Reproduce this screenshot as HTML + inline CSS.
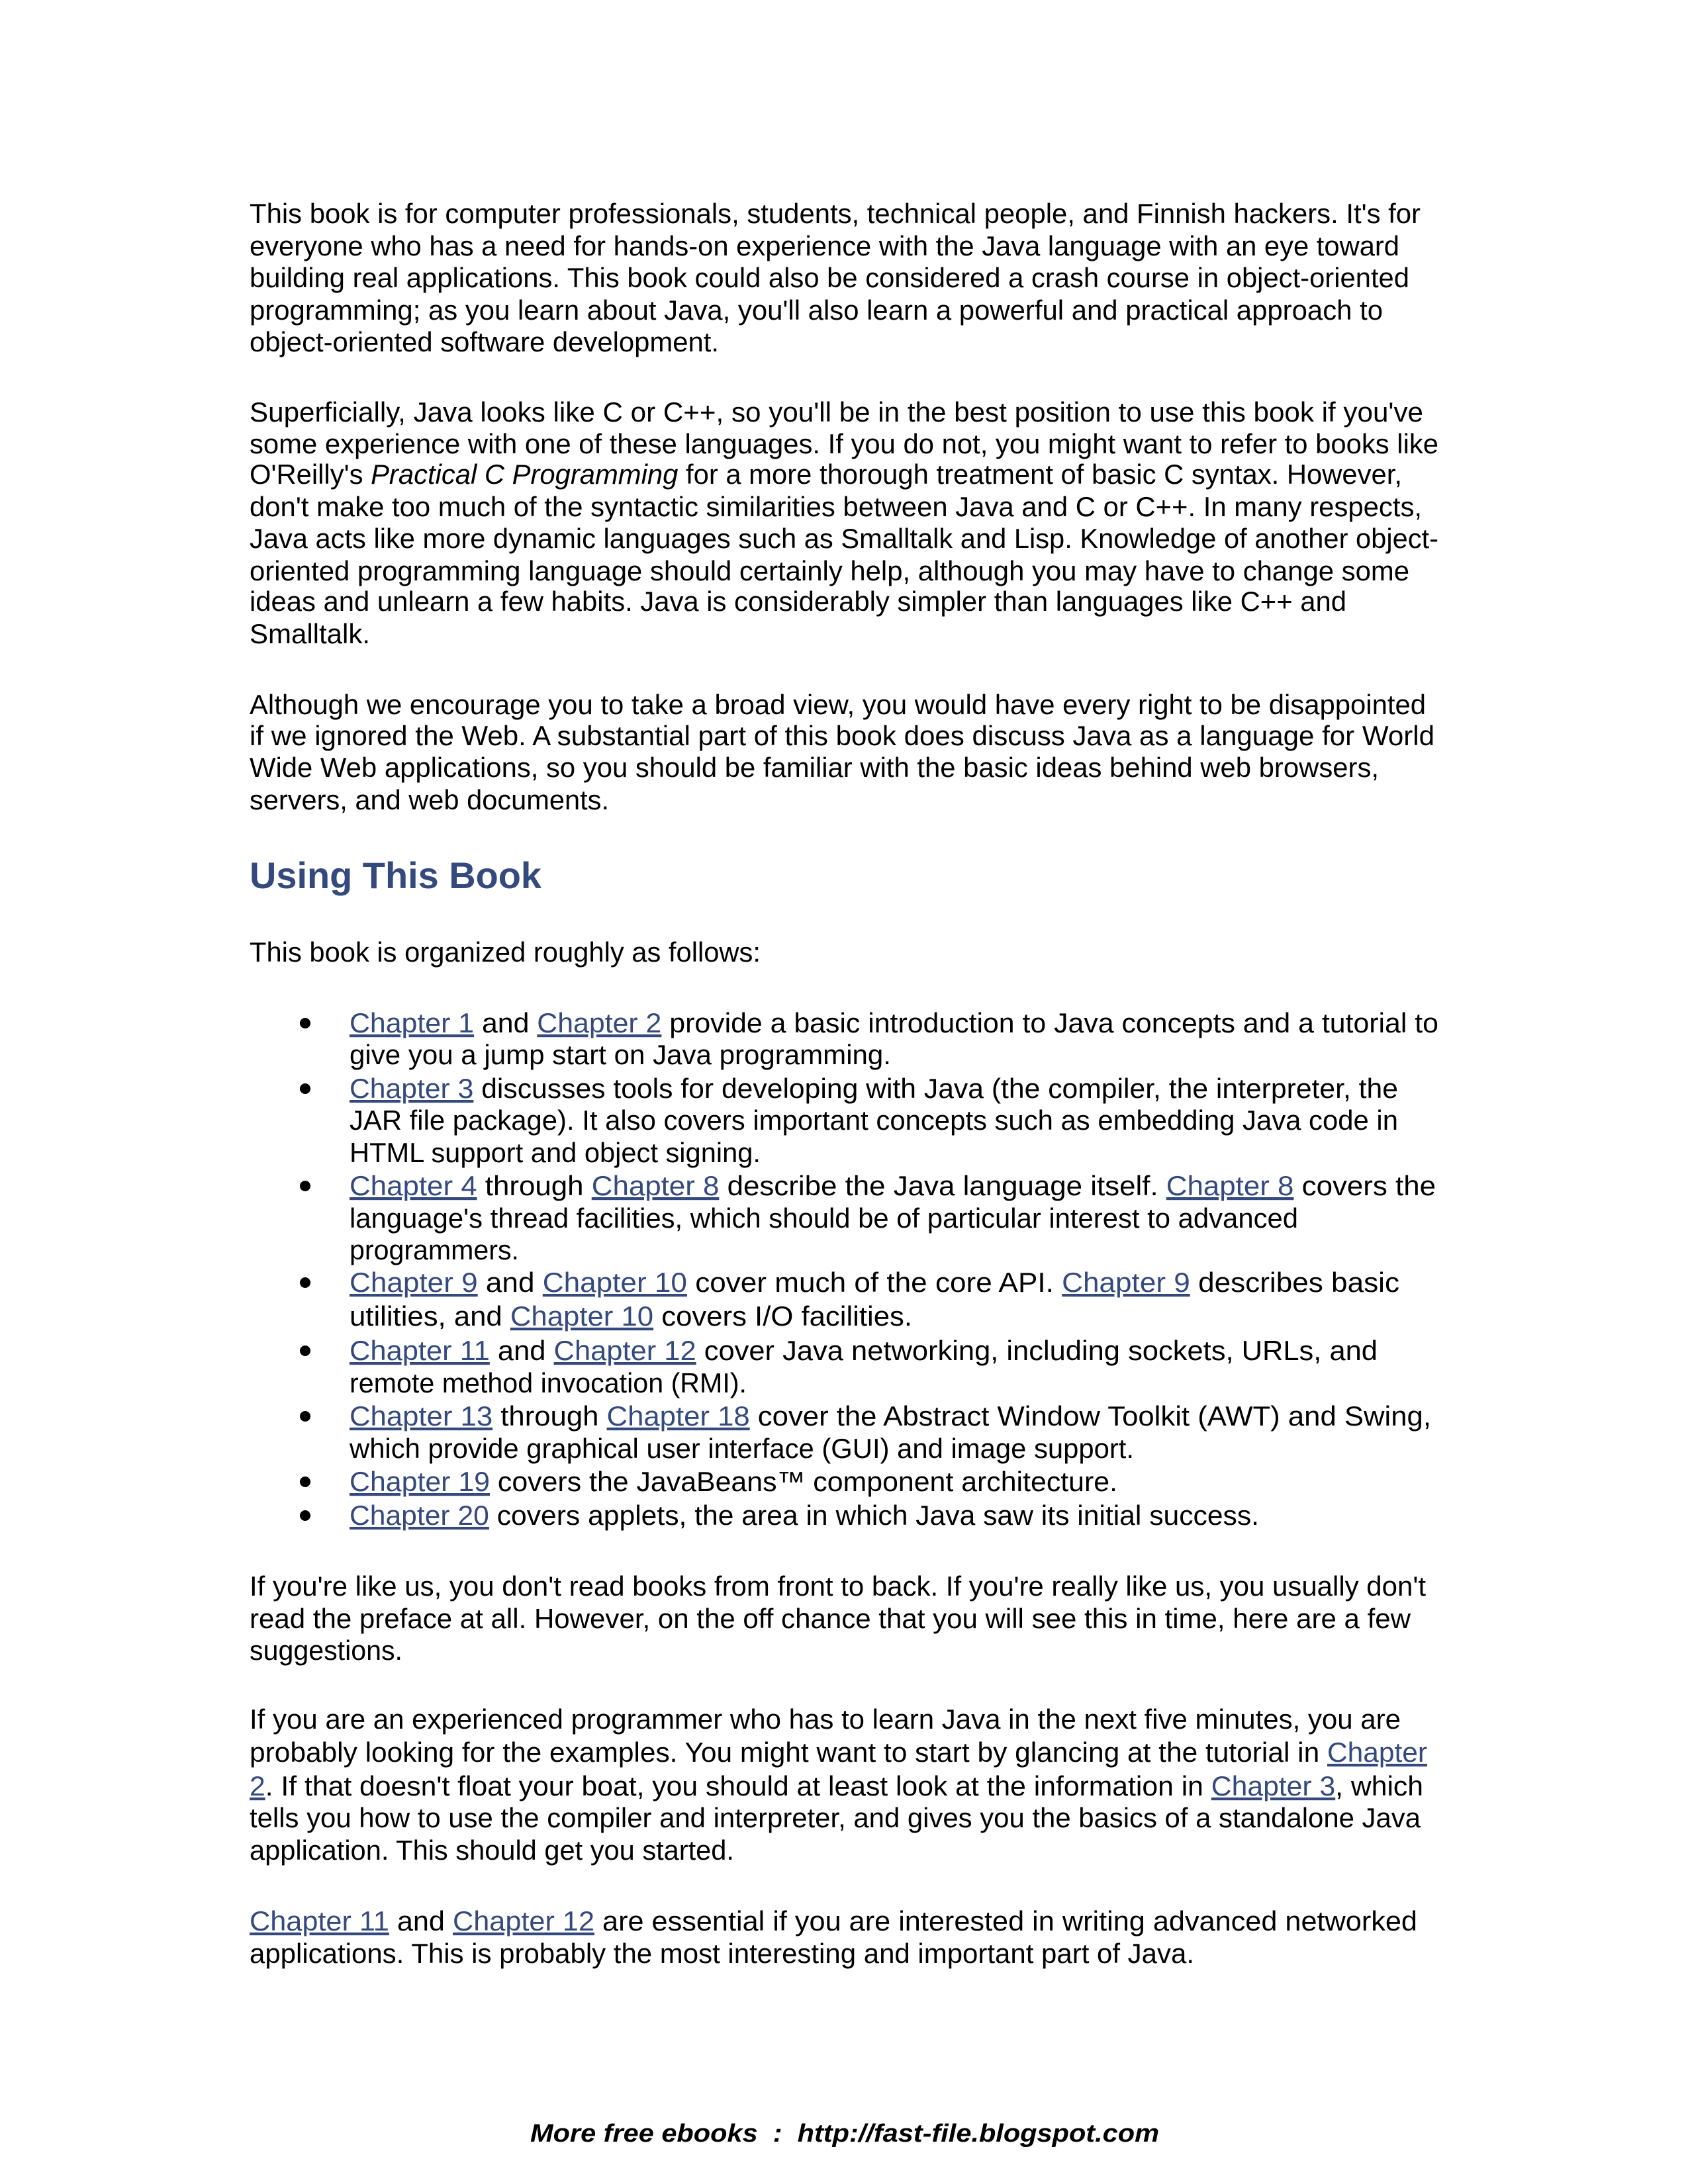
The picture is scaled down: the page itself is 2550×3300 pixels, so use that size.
<!DOCTYPE html>
<html><head><meta charset="utf-8"><style>
html,body{margin:0;padding:0;background:#fff;}
svg{display:block;}
text{font-family:"Liberation Sans",Arial,sans-serif;font-size:42px;fill:#000;}
.l{fill:#34497d;text-decoration:underline;}
.h{font-size:56px;font-weight:bold;fill:#34497d;}
.f{font-size:38px;font-weight:bold;font-style:italic;}
</style></head><body>
<svg width="2550" height="3300" viewBox="0 0 2550 3300" xmlns="http://www.w3.org/2000/svg">
<g lengthAdjust="spacingAndGlyphs">
<text x="377" y="337" textLength="1769" lengthAdjust="spacingAndGlyphs">This book is for computer professionals, students, technical people, and Finnish hackers. It's for</text>
<text x="377" y="386" textLength="1737" lengthAdjust="spacingAndGlyphs">everyone who has a need for hands-on experience with the Java language with an eye toward</text>
<text x="377" y="434" textLength="1752" lengthAdjust="spacingAndGlyphs">building real applications. This book could also be considered a crash course in object-oriented</text>
<text x="377" y="483" textLength="1712" lengthAdjust="spacingAndGlyphs">programming; as you learn about Java, you'll also learn a powerful and practical approach to</text>
<text x="377" y="531" textLength="709" lengthAdjust="spacingAndGlyphs">object-oriented software development.</text>

<text x="377" y="637" textLength="1773" lengthAdjust="spacingAndGlyphs">Superficially, Java looks like C or C++, so you'll be in the best position to use this book if you've</text>
<text x="377" y="685" textLength="1796" lengthAdjust="spacingAndGlyphs">some experience with one of these languages. If you do not, you might want to refer to books like</text>
<text x="377" y="731" textLength="1741" lengthAdjust="spacingAndGlyphs">O'Reilly's <tspan font-style="italic">Practical C Programming</tspan> for a more thorough treatment of basic C syntax. However,</text>
<text x="377" y="780" textLength="1771" lengthAdjust="spacingAndGlyphs">don't make too much of the syntactic similarities between Java and C or C++. In many respects,</text>
<text x="377" y="828" textLength="1796" lengthAdjust="spacingAndGlyphs">Java acts like more dynamic languages such as Smalltalk and Lisp. Knowledge of another object-</text>
<text x="377" y="877" textLength="1752" lengthAdjust="spacingAndGlyphs">oriented programming language should certainly help, although you may have to change some</text>
<text x="377" y="923" textLength="1657" lengthAdjust="spacingAndGlyphs">ideas and unlearn a few habits. Java is considerably simpler than languages like C++ and</text>
<text x="377" y="972" textLength="182" lengthAdjust="spacingAndGlyphs">Smalltalk.</text>

<text x="377" y="1079" textLength="1777" lengthAdjust="spacingAndGlyphs">Although we encourage you to take a broad view, you would have every right to be disappointed</text>
<text x="377" y="1126" textLength="1790" lengthAdjust="spacingAndGlyphs">if we ignored the Web. A substantial part of this book does discuss Java as a language for World</text>
<text x="377" y="1174" textLength="1706" lengthAdjust="spacingAndGlyphs">Wide Web applications, so you should be familiar with the basic ideas behind web browsers,</text>
<text x="377" y="1223" textLength="543" lengthAdjust="spacingAndGlyphs">servers, and web documents.</text>

<text class="h" x="377" y="1342" textLength="441" lengthAdjust="spacingAndGlyphs">Using This Book</text>

<text x="377" y="1453" textLength="772" lengthAdjust="spacingAndGlyphs">This book is organized roughly as follows:</text>

<g fill="#000">
<circle cx="461" cy="1546" r="8"/>
<circle cx="461" cy="1645" r="8"/>
<circle cx="461" cy="1792" r="8"/>
<circle cx="461" cy="1938" r="8"/>
<circle cx="461" cy="2041" r="8"/>
<circle cx="461" cy="2140" r="8"/>
<circle cx="461" cy="2239" r="8"/>
<circle cx="461" cy="2290" r="8"/>
</g>
<text x="528" y="1560" textLength="1645" lengthAdjust="spacingAndGlyphs"><tspan class="l">Chapter 1</tspan> and <tspan class="l">Chapter 2</tspan> provide a basic introduction to Java concepts and a tutorial to</text>
<text x="528" y="1608" textLength="818" lengthAdjust="spacingAndGlyphs">give you a jump start on Java programming.</text>
<text x="528" y="1659" textLength="1584" lengthAdjust="spacingAndGlyphs"><tspan class="l">Chapter 3</tspan> discusses tools for developing with Java (the compiler, the interpreter, the</text>
<text x="528" y="1707" textLength="1584" lengthAdjust="spacingAndGlyphs">JAR file package). It also covers important concepts such as embedding Java code in</text>
<text x="528" y="1756" textLength="621" lengthAdjust="spacingAndGlyphs">HTML support and object signing.</text>
<text x="528" y="1806" textLength="1641" lengthAdjust="spacingAndGlyphs"><tspan class="l">Chapter 4</tspan> through <tspan class="l">Chapter 8</tspan> describe the Java language itself. <tspan class="l">Chapter 8</tspan> covers the</text>
<text x="528" y="1855" textLength="1433" lengthAdjust="spacingAndGlyphs">language's thread facilities, which should be of particular interest to advanced</text>
<text x="528" y="1903" textLength="256" lengthAdjust="spacingAndGlyphs">programmers.</text>
<text x="528" y="1952" textLength="1586" lengthAdjust="spacingAndGlyphs"><tspan class="l">Chapter 9</tspan> and <tspan class="l">Chapter 10</tspan> cover much of the core API. <tspan class="l">Chapter 9</tspan> describes basic</text>
<text x="528" y="2003" textLength="850" lengthAdjust="spacingAndGlyphs">utilities, and <tspan class="l">Chapter 10</tspan> covers I/O facilities.</text>
<text x="528" y="2055" textLength="1553" lengthAdjust="spacingAndGlyphs"><tspan class="l">Chapter 11</tspan> and <tspan class="l">Chapter 12</tspan> cover Java networking, including sockets, URLs, and</text>
<text x="528" y="2104" textLength="600" lengthAdjust="spacingAndGlyphs">remote method invocation (RMI).</text>
<text x="528" y="2154" textLength="1634" lengthAdjust="spacingAndGlyphs"><tspan class="l">Chapter 13</tspan> through <tspan class="l">Chapter 18</tspan> cover the Abstract Window Toolkit (AWT) and Swing,</text>
<text x="528" y="2203" textLength="1185" lengthAdjust="spacingAndGlyphs">which provide graphical user interface (GUI) and image support.</text>
<text x="528" y="2253" textLength="1160" lengthAdjust="spacingAndGlyphs"><tspan class="l">Chapter 19</tspan> covers the JavaBeans™ component architecture.</text>
<text x="528" y="2304" textLength="1374" lengthAdjust="spacingAndGlyphs"><tspan class="l">Chapter 20</tspan> covers applets, the area in which Java saw its initial success.</text>

<text x="377" y="2411" textLength="1777" lengthAdjust="spacingAndGlyphs">If you're like us, you don't read books from front to back. If you're really like us, you usually don't</text>
<text x="377" y="2460" textLength="1754" lengthAdjust="spacingAndGlyphs">read the preface at all. However, on the off chance that you will see this in time, here are a few</text>
<text x="377" y="2508" textLength="231" lengthAdjust="spacingAndGlyphs">suggestions.</text>

<text x="377" y="2612" textLength="1739" lengthAdjust="spacingAndGlyphs">If you are an experienced programmer who has to learn Java in the next five minutes, you are</text>
<text x="377" y="2662" textLength="1779" lengthAdjust="spacingAndGlyphs">probably looking for the examples. You might want to start by glancing at the tutorial in <tspan class="l">Chapter</tspan></text>
<text x="377" y="2713" textLength="1773" lengthAdjust="spacingAndGlyphs"><tspan class="l">2</tspan>. If that doesn't float your boat, you should at least look at the information in <tspan class="l">Chapter 3</tspan>, which</text>
<text x="377" y="2761" textLength="1769" lengthAdjust="spacingAndGlyphs">tells you how to use the compiler and interpreter, and gives you the basics of a standalone Java</text>
<text x="377" y="2810" textLength="732" lengthAdjust="spacingAndGlyphs">application. This should get you started.</text>

<text x="377" y="2917" textLength="1764" lengthAdjust="spacingAndGlyphs"><tspan class="l">Chapter 11</tspan> and <tspan class="l">Chapter 12</tspan> are essential if you are interested in writing advanced networked</text>
<text x="377" y="2966" textLength="1427" lengthAdjust="spacingAndGlyphs">applications. This is probably the most interesting and important part of Java.</text>

<text class="f" x="801" y="3236" textLength="950" lengthAdjust="spacingAndGlyphs" xml:space="preserve">More free ebooks  :  http://fast-file.blogspot.com</text>
</g>
</svg>
</body></html>
